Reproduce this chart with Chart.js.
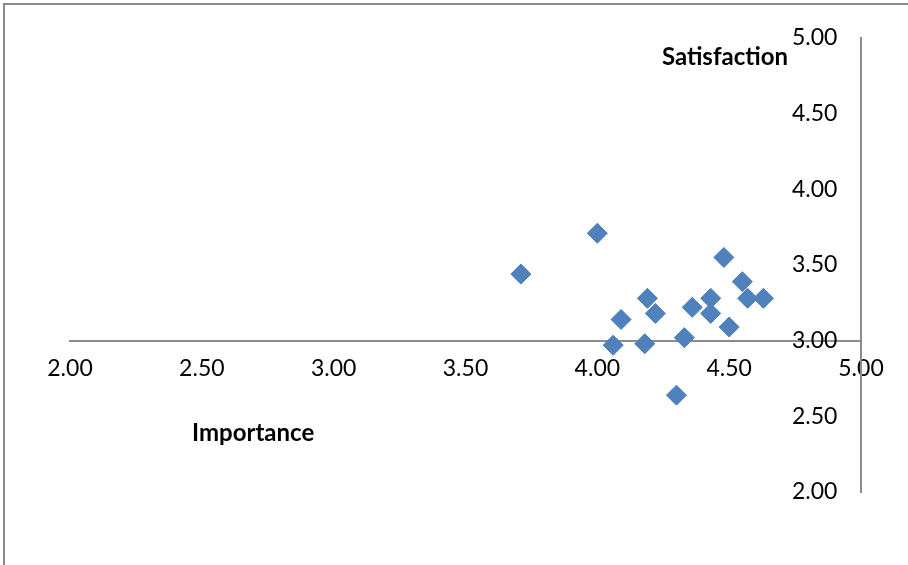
<!DOCTYPE html>
<html>
<head>
<meta charset="utf-8">
<script src="https://cdn.jsdelivr.net/npm/chart.js@4.4.1/dist/chart.umd.min.js"></script>
<style>
  html, body { margin: 0; padding: 0; background: #fff; }
  #wrap { width: 908px; height: 565px; }
</style>
</head>
<body>
<div id="wrap"><canvas id="myChart" width="908" height="565"></canvas></div>
<script>
// Importance (x) vs Satisfaction (y), one point per item
let importance   = [3.71, 4.00, 4.48, 4.55, 4.57, 4.63, 4.43, 4.43, 4.50, 4.36, 4.33, 4.30, 4.19, 4.22, 4.09, 4.06, 4.18];
let satisfaction = [3.44, 3.71, 3.55, 3.39, 3.28, 3.28, 3.28, 3.18, 3.09, 3.22, 3.02, 2.64, 3.28, 3.18, 3.14, 2.97, 2.98];
let axisMin = 2, axisMax = 5, axisStep = 0.5;
let xTitle = 'Importance';
let yTitle = 'Satisfaction';

let points = importance.map((v, i) => ({x: v, y: satisfaction[i]}));

// a y axis placed by value ignores ticks.padding, so pad the labels with spaces
let ctxM = document.createElement('canvas').getContext('2d');
ctxM.font = '23px Lato';
let spaceW = ctxM.measureText(' ').width || 5;
let yPad = ' '.repeat(Math.max(1, Math.round(26 / spaceW)));

// outer frame + the two free-floating axis titles
const decor = {
    id: 'decor',
    beforeDraw(chart) {
        const ctx = chart.ctx;
        ctx.save();
        ctx.fillStyle = '#fff';
        ctx.fillRect(0, 0, chart.width, chart.height);
        ctx.strokeStyle = '#8c8c8c';
        ctx.lineWidth = 2;
        ctx.strokeRect(4, 4, 1000, 1000);
        ctx.restore();
    },
    afterDraw(chart) {
        const ctx = chart.ctx;
        const a = chart.chartArea;
        ctx.save();
        ctx.fillStyle = '#000';
        ctx.font = 'bold 24px Lato';
        ctx.textBaseline = 'middle';
        ctx.textAlign = 'right';
        ctx.fillText(yTitle, a.right - 73, a.top + 19);
        ctx.textAlign = 'left';
        ctx.fillText(xTitle, a.left + 122, a.bottom - 59);
        ctx.restore();
    }
};

let myChart = document.getElementById('myChart').getContext('2d');

Chart.defaults.font.family = 'Lato';
Chart.defaults.font.size = 23;
Chart.defaults.color = '#000';

let scatter = new Chart(myChart, {
    type: 'scatter',
    data: {
        datasets: [{
            label: 'Items',
            data: points,
            pointStyle: 'rectRot',
            pointRadius: 10,
            pointHoverRadius: 10,
            backgroundColor: '#4f81bd',
            borderColor: '#4a7ebb',
            borderWidth: 1
        }]
    },
    options: {
        responsive: false,
        animation: false,
        layout: {
            padding: {left: 70, top: 38, right: 47, bottom: 73}
        },
        plugins: {
            legend: {display: false},
            tooltip: {enabled: false}
        },
        scales: {
            x: {
                type: 'linear',
                min: axisMin,
                max: axisMax,
                position: {y: 3},
                grid: {display: true, color: 'rgba(0,0,0,0)', drawTicks: false},
                border: {display: true, color: '#8c8c8c', width: 2},
                ticks: {
                    stepSize: axisStep,
                    padding: 14,
                    maxRotation: 0,
                    callback: v => v.toFixed(2)
                }
            },
            y: {
                type: 'linear',
                min: axisMin,
                max: axisMax,
                position: {x: 5},
                grid: {display: true, color: 'rgba(0,0,0,0)', drawTicks: false},
                border: {display: true, color: '#8c8c8c', width: 2},
                ticks: {
                    stepSize: axisStep,
                    callback: v => v.toFixed(2) + yPad
                }
            }
        }
    },
    plugins: [decor]
});
</script>
</body>
</html>
